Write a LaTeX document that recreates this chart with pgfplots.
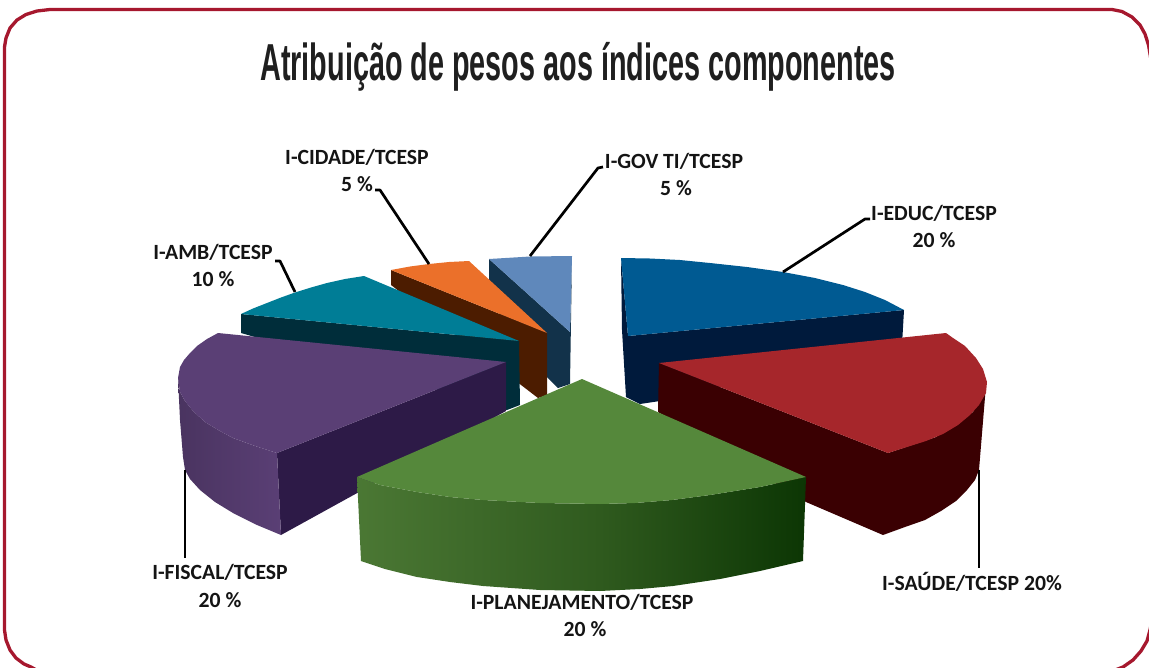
\documentclass[border=0pt]{standalone}
\usepackage{pgfplots}
\pgfplotsset{compat=1.18}
\usepackage{fontspec}
\usepackage{graphicx}
\setmainfont{Carlito}
\newfontfamily\titlefont{Liberation Sans}
\definecolor{frame}{HTML}{A6182E}
\definecolor{govT}{HTML}{5F88BB}\definecolor{govS}{HTML}{12324A}
\definecolor{cidT}{HTML}{EB702A}\definecolor{cidS}{HTML}{4C1C00}
\definecolor{ambT}{HTML}{007D96}\definecolor{ambS}{HTML}{002D3A}
\definecolor{fisT}{HTML}{5A3F75}\definecolor{fisS}{HTML}{2D1A47}
\definecolor{eduT}{HTML}{005A92}\definecolor{eduS}{HTML}{001A3C}
\definecolor{sauT}{HTML}{A6262B}\definecolor{sauS}{HTML}{3A0002}
\definecolor{plaT}{HTML}{55883B}\definecolor{plaM}{HTML}{2F5A1E}\definecolor{plaR}{HTML}{0C3604}
\tikzset{lab/.style={font=\bfseries\fontsize{21.7}{24}\selectfont,text=black!92,inner sep=0pt},
  lead/.style={black,line width=2.7pt,line join=round}}
\begin{document}
\begin{tikzpicture}
\path[use as bounding box] (0,0) rectangle (1149pt,667pt);
\clip (0,0) rectangle (1149pt,667pt);
\begin{axis}[at={(0,0)},anchor=south west,scale only axis,width=1149pt,height=667pt,
  xmin=0,xmax=1149,ymin=0,ymax=667,y dir=reverse,hide axis,clip=false]
% frame
\addplot[frame,line width=3.3pt,line join=round] coordinates {
(4.5,47)(6,38)(10,28)(17,20)(26,14.5)(37,11)(50,9.5)(1112,9.5)(1122,11.5)(1132,17)(1140,25)(1145,34)(1148.5,45)(1151,60)(1151,625)(1150,630)(1147,641)(1141,651)(1133,660)(1123,667)(1110,672)(40,672)(31,667)(24,664)(16,658)(10,650)(6,640)(4.5,630)(4.5,47)};
% GOV TI
\addplot[draw=none,fill=govS] coordinates {(489,259)(570,332)(572,256)(570,384)(558,388)(546,376)(489,300)(489,259)};
\addplot[draw=none,fill=govT] coordinates {(489,259)(530,256.5)(572,256)(570,332)(489,259)};
% CIDADE
\addplot[draw=none,fill=cidS] coordinates {(391,270)(547,333)(547,395)(538,398)(391,285)(391,270)};
\addplot[draw=none,fill=cidT] coordinates {(391,270)(410,266.5)(429,264)(449,262)(469,261)(547,333)(391,270)};
% AMB
\addplot[draw=none,fill=ambS] coordinates {(241,314)(519,341)(520,405)(507,410)(241,333)(241,314)};
\addplot[draw=none,fill=ambT] coordinates {(241,314)(253,308.5)(267,303)(281,297.5)(295,292.5)(311,287.5)(327,283)(345,279)(364,276)(519,341)(241,314)};
% FISCAL
\addplot[draw=none,fill=fisS] coordinates {(277,453)(506,362)(506,411)(281,535)(277,453)};
\addplot[draw=none,left color=fisT!82!black,right color=fisT] coordinates {(178,378)(180,392)(185,401)(193,411)(205,422)(220,431)(233,438)(255,446)(277,453)(281,535)(257,525)(233,513)(215,502)(200,490)(190,479)(185,470)(183,457)(180,420)(178,378)};
\addplot[draw=none,fill=fisT] coordinates {(277,453)(255,446)(233,438)(220,431)(205,422)(193,411)(185,401)(180,392)(178,378)(180,367)(184,360)(190,353)(197,346)(207,339)(218,333)(506,362)(277,453)};
% EDUC
\addplot[draw=none,fill=eduS] coordinates {(621,258)(628,336)(904,310)(902,345)(660,401)(640,404)(626,397)(622,330)(621,258)};
\addplot[draw=none,fill=eduT] coordinates {(621,258)(650,258.5)(680,260)(710,263)(747,267)(783,272)(815,278)(843,285)(865,292)(885,300)(904,310)(628,336)(621,258)};
% SAUDE
\addplot[draw=none,fill=sauS] coordinates {(659,363)(888,453)(936,437)(973,412)(986,385)(979,470)(975,480)(967,490)(956,501)(941,511)(925,520)(905,527)(883,535)(806,502)(658,412)(659,363)};
\addplot[draw=none,fill=sauT] coordinates {(659,363)(946,333)(953,338)(965,346)(976,358)(983,369)(987,382)(986,393)(979,405)(970,415)(958,425)(943,434)(926,441)(907,447)(888,453)(659,363)};
% PLANEJAMENTO
\addplot[draw=none,left color=plaT!88!black,right color=plaM] coordinates {(357,477)(380,485)(417,492)(450,497)(483,500)(540,503)(600,504)(600,591)(540,590)(483,586)(450,582)(417,577)(385,569)(361,561)(357,477)};
\addplot[draw=none,left color=plaM,right color=plaR] coordinates {(600,504)(635,503)(672,500)(710,495)(760,487)(806,477)(803,561)(760,571)(720,579)(673,586)(640,589)(600,591)(600,504)};
\addplot[draw=none,fill=plaT] coordinates {(582,379)(806,477)(760,487)(710,495)(672,500)(635,503)(600,504)(540,503)(483,500)(450,497)(417,492)(380,485)(357,477)(582,379)};
% leaders
\addplot[lead] coordinates {(530,256)(598,168)(603,167)};
\addplot[lead] coordinates {(429,264)(380,190)(375,190)};
\addplot[lead] coordinates {(295,292)(280,261)(275,261)};
\addplot[lead] coordinates {(783,272)(865,219)(870,219)};
\addplot[lead] coordinates {(185,470)(185,558)};
\addplot[lead] coordinates {(979,470)(979,568)};
% labels
\node[lab] at (axis cs:357,157) {I-CIDADE/TCESP};
\node[lab] at (axis cs:357,184) {5 \%};
\node[lab] at (axis cs:674,161) {I-GOV TI/TCESP};
\node[lab] at (axis cs:676,188) {5 \%};
\node[lab] at (axis cs:934,213) {I-EDUC/TCESP};
\node[lab] at (axis cs:934,240) {20 \%};
\node[lab] at (axis cs:213,252) {I-AMB/TCESP};
\node[lab] at (axis cs:213,279) {10 \%};
\node[lab] at (axis cs:220,572) {I-FISCAL/TCESP};
\node[lab] at (axis cs:220,600) {20 \%};
\node[lab] at (axis cs:582,602) {I-PLANEJAMENTO/TCESP};
\node[lab] at (axis cs:585,629) {20 \%};
\node[lab] at (axis cs:972,582) {I-SAÚDE/TCESP 20\%};
% title
\node[inner sep=0pt,anchor=base,text=black!88] at (axis cs:578,80) {\scalebox{0.554}[1]{\titlefont\bfseries\fontsize{52}{56}\selectfont Atribuição de pesos aos índices componentes}};
\end{axis}
\end{tikzpicture}
\end{document}
